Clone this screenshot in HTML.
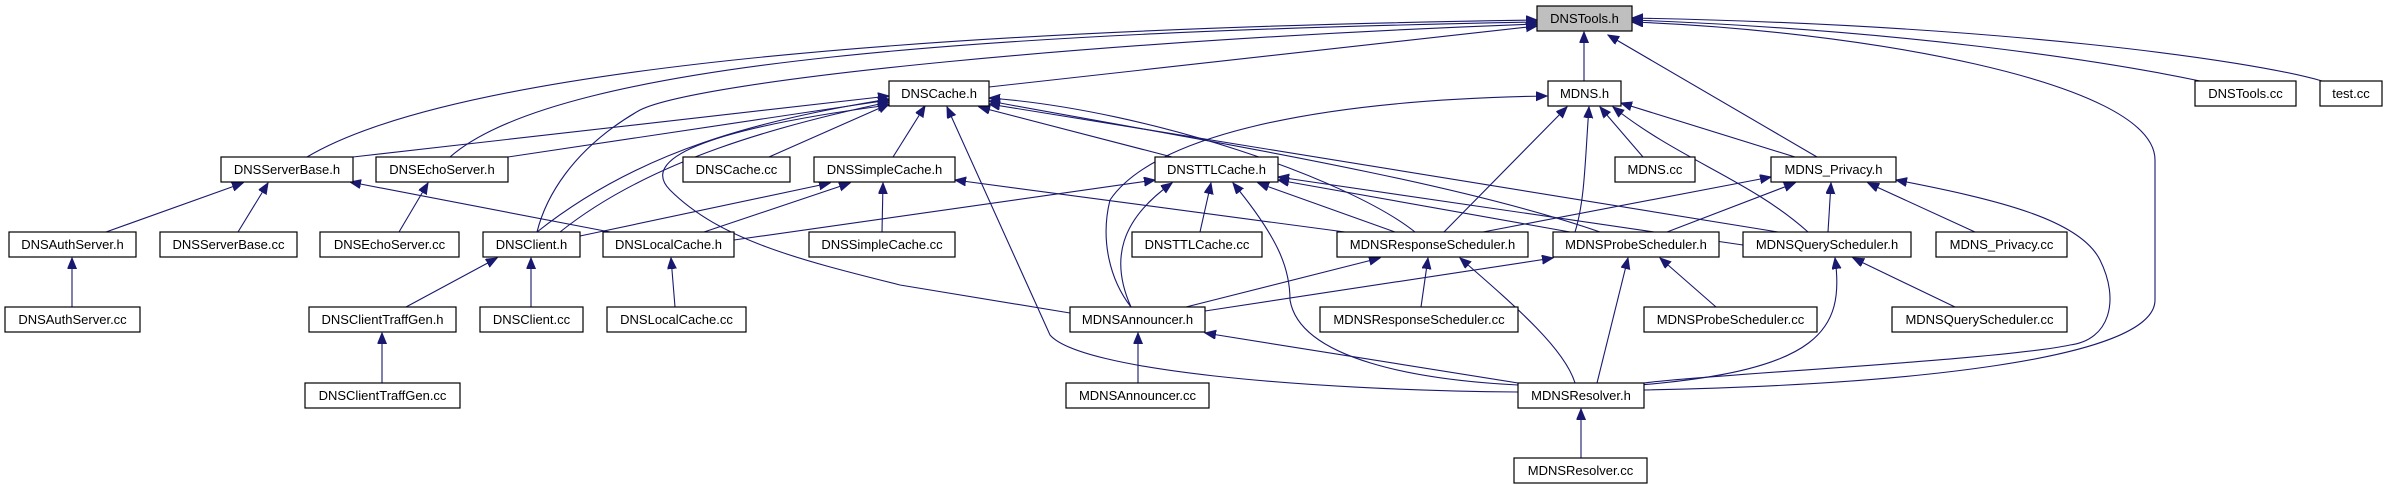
<!DOCTYPE html>
<html><head><meta charset="utf-8"><style>
html,body{margin:0;padding:0;background:#fff;}
svg{display:block;}
text{font-family:"Liberation Sans",sans-serif;font-size:13px;fill:#000;}
rect{fill:#fff;stroke:#000;stroke-width:1.2;}
path{fill:none;stroke:#191970;stroke-width:1.1;marker-start:url(#a);}
</style></head><body>
<svg width="2384" height="485" viewBox="0 0 2384 485" xmlns="http://www.w3.org/2000/svg">
<defs><marker id="a" markerUnits="userSpaceOnUse" markerWidth="12" markerHeight="10" refX="11" refY="4.5" orient="auto-start-reverse"><polygon points="0,0 11,4.5 0,9" fill="#191970" stroke="#191970"/></marker></defs>
<g>
<!-- DNSTools.h -->
<path d="M1537,20 C1000,28 470,60 307,157"/>
<path d="M1537,22 C1000,32 560,60 450,157"/>
<path d="M1537,26 L989,87"/>
<path d="M1537,24 C1100,40 700,80 640,110 C570,150 545,200 537,232"/>
<path d="M1584,32 L1584,81"/>
<path d="M1608,35 L1817,157"/>
<path d="M1632,22 C1850,30 2155,80 2155,160 L2155,300 C2155,360 1900,385 1644,390"/>
<path d="M1632,20 C1900,30 2100,60 2200,81"/>
<path d="M1632,18 C2000,25 2250,60 2322,81"/>
<!-- DNSCache.h -->
<path d="M889,96 L353,157"/>
<path d="M889,100 L508,157"/>
<path d="M889,104 L769,157"/>
<path d="M925,106 L893,157"/>
<path d="M979,107 L1172,157"/>
<path d="M889,99 C760,120 640,150 537,232"/>
<path d="M889,102 C780,125 650,160 560,232"/>
<path d="M889,105 C700,130 640,160 670,190 C720,240 800,260 900,285 L1070,313"/>
<path d="M947,107 L1050,335 C1080,370 1300,390 1518,392"/>
<path d="M989,98 C1150,110 1350,180 1415,232"/>
<path d="M989,101 C1200,140 1450,180 1600,232"/>
<path d="M989,104 L1778,232"/>
<!-- DNSServerBase.h / Echo -->
<path d="M243,183 L106,232"/>
<path d="M268,183 L238,232"/>
<path d="M350,182 L610,232"/>
<path d="M428,183 L399,232"/>
<!-- DNSSimpleCache.h -->
<path d="M830,183 L580,236"/>
<path d="M850,183 L704,232"/>
<path d="M883,183 L882,232"/>
<path d="M955,180 L1345,232"/>
<!-- DNSTTLCache.h -->
<path d="M1155,180 L734,240"/>
<path d="M1211,183 L1200,232"/>
<path d="M1172,183 C1120,220 1110,260 1131,307"/>
<path d="M1233,183 C1280,240 1290,270 1290,300 C1300,360 1420,380 1518,385"/>
<path d="M1258,183 L1395,232"/>
<path d="M1278,180 L1570,232"/>
<path d="M1278,177 L1743,245"/>
<!-- MDNS.h -->
<path d="M1547,96 C1300,100 1150,140 1110,200 C1100,240 1110,280 1131,307"/>
<path d="M1567,107 L1444,232"/>
<path d="M1589,107 C1585,160 1585,200 1575,232"/>
<path d="M1600,107 L1643,157"/>
<path d="M1613,107 C1680,160 1750,180 1808,232"/>
<path d="M1621,103 L1795,157"/>
<!-- MDNS_Privacy.h -->
<path d="M1771,177 L1483,232"/>
<path d="M1795,183 L1667,232"/>
<path d="M1831,183 L1828,232"/>
<path d="M1868,183 L1975,232"/>
<path d="M1896,180 C2000,200 2080,220 2100,260 C2120,300 2110,340 2070,345 C2000,360 1700,375 1644,383"/>
<!-- lower rows -->
<path d="M497,258 L406,307"/>
<path d="M531,258 L531,307"/>
<path d="M671,258 L675,307"/>
<path d="M72,258 L72,307"/>
<path d="M382,333 L382,383"/>
<path d="M1380,258 L1186,307"/>
<path d="M1428,258 L1421,307"/>
<path d="M1460,258 C1520,310 1565,350 1575,383"/>
<path d="M1553,258 L1205,311"/>
<path d="M1660,258 L1716,307"/>
<path d="M1628,258 L1597,383"/>
<path d="M1835,258 C1845,330 1820,370 1640,385"/>
<path d="M1853,258 L1955,307"/>
<path d="M1138,333 L1138,383"/>
<path d="M1205,333 L1518,383"/>
<path d="M1581,409 L1581,458"/>
</g>
<g>
<rect x="1537" y="6" width="95" height="25" style="fill:#bfbfbf"/><text x="1584.5" y="23" text-anchor="middle">DNSTools.h</text>
<rect x="889" y="81" width="100" height="25"/><text x="939" y="98" text-anchor="middle">DNSCache.h</text>
<rect x="1548" y="81" width="73" height="25"/><text x="1584.5" y="98" text-anchor="middle">MDNS.h</text>
<rect x="2195" y="81" width="101" height="25"/><text x="2245.5" y="98" text-anchor="middle">DNSTools.cc</text>
<rect x="2320" y="81" width="62" height="25"/><text x="2351" y="98" text-anchor="middle">test.cc</text>
<rect x="221" y="157" width="132" height="25"/><text x="287" y="174" text-anchor="middle">DNSServerBase.h</text>
<rect x="376" y="157" width="132" height="25"/><text x="442" y="174" text-anchor="middle">DNSEchoServer.h</text>
<rect x="683" y="157" width="107" height="25"/><text x="736.5" y="174" text-anchor="middle">DNSCache.cc</text>
<rect x="814" y="157" width="141" height="25"/><text x="884.5" y="174" text-anchor="middle">DNSSimpleCache.h</text>
<rect x="1155" y="157" width="123" height="25"/><text x="1216.5" y="174" text-anchor="middle">DNSTTLCache.h</text>
<rect x="1615" y="157" width="80" height="25"/><text x="1655" y="174" text-anchor="middle">MDNS.cc</text>
<rect x="1771" y="157" width="125" height="25"/><text x="1833.5" y="174" text-anchor="middle">MDNS_Privacy.h</text>
<rect x="9" y="232" width="127" height="25"/><text x="72.5" y="249" text-anchor="middle">DNSAuthServer.h</text>
<rect x="160" y="232" width="137" height="25"/><text x="228.5" y="249" text-anchor="middle">DNSServerBase.cc</text>
<rect x="320" y="232" width="139" height="25"/><text x="389.5" y="249" text-anchor="middle">DNSEchoServer.cc</text>
<rect x="483" y="232" width="97" height="25"/><text x="531.5" y="249" text-anchor="middle">DNSClient.h</text>
<rect x="603" y="232" width="131" height="25"/><text x="668.5" y="249" text-anchor="middle">DNSLocalCache.h</text>
<rect x="809" y="232" width="146" height="25"/><text x="882" y="249" text-anchor="middle">DNSSimpleCache.cc</text>
<rect x="1132" y="232" width="130" height="25"/><text x="1197" y="249" text-anchor="middle">DNSTTLCache.cc</text>
<rect x="1337" y="232" width="191" height="25"/><text x="1432.5" y="249" text-anchor="middle">MDNSResponseScheduler.h</text>
<rect x="1553" y="232" width="166" height="25"/><text x="1636" y="249" text-anchor="middle">MDNSProbeScheduler.h</text>
<rect x="1743" y="232" width="168" height="25"/><text x="1827" y="249" text-anchor="middle">MDNSQueryScheduler.h</text>
<rect x="1936" y="232" width="131" height="25"/><text x="2001.5" y="249" text-anchor="middle">MDNS_Privacy.cc</text>
<rect x="5" y="307" width="135" height="25"/><text x="72.5" y="324" text-anchor="middle">DNSAuthServer.cc</text>
<rect x="309" y="307" width="147" height="25"/><text x="382.5" y="324" text-anchor="middle">DNSClientTraffGen.h</text>
<rect x="480" y="307" width="103" height="25"/><text x="531.5" y="324" text-anchor="middle">DNSClient.cc</text>
<rect x="607" y="307" width="139" height="25"/><text x="676.5" y="324" text-anchor="middle">DNSLocalCache.cc</text>
<rect x="1070" y="307" width="135" height="25"/><text x="1137.5" y="324" text-anchor="middle">MDNSAnnouncer.h</text>
<rect x="1320" y="307" width="198" height="25"/><text x="1419" y="324" text-anchor="middle">MDNSResponseScheduler.cc</text>
<rect x="1644" y="307" width="173" height="25"/><text x="1730.5" y="324" text-anchor="middle">MDNSProbeScheduler.cc</text>
<rect x="1892" y="307" width="175" height="25"/><text x="1979.5" y="324" text-anchor="middle">MDNSQueryScheduler.cc</text>
<rect x="305" y="383" width="155" height="25"/><text x="382.5" y="400" text-anchor="middle">DNSClientTraffGen.cc</text>
<rect x="1066" y="383" width="143" height="25"/><text x="1137.5" y="400" text-anchor="middle">MDNSAnnouncer.cc</text>
<rect x="1518" y="383" width="126" height="25"/><text x="1581" y="400" text-anchor="middle">MDNSResolver.h</text>
<rect x="1514" y="458" width="133" height="25"/><text x="1580.5" y="475" text-anchor="middle">MDNSResolver.cc</text>
</g>
</svg>
</body></html>
